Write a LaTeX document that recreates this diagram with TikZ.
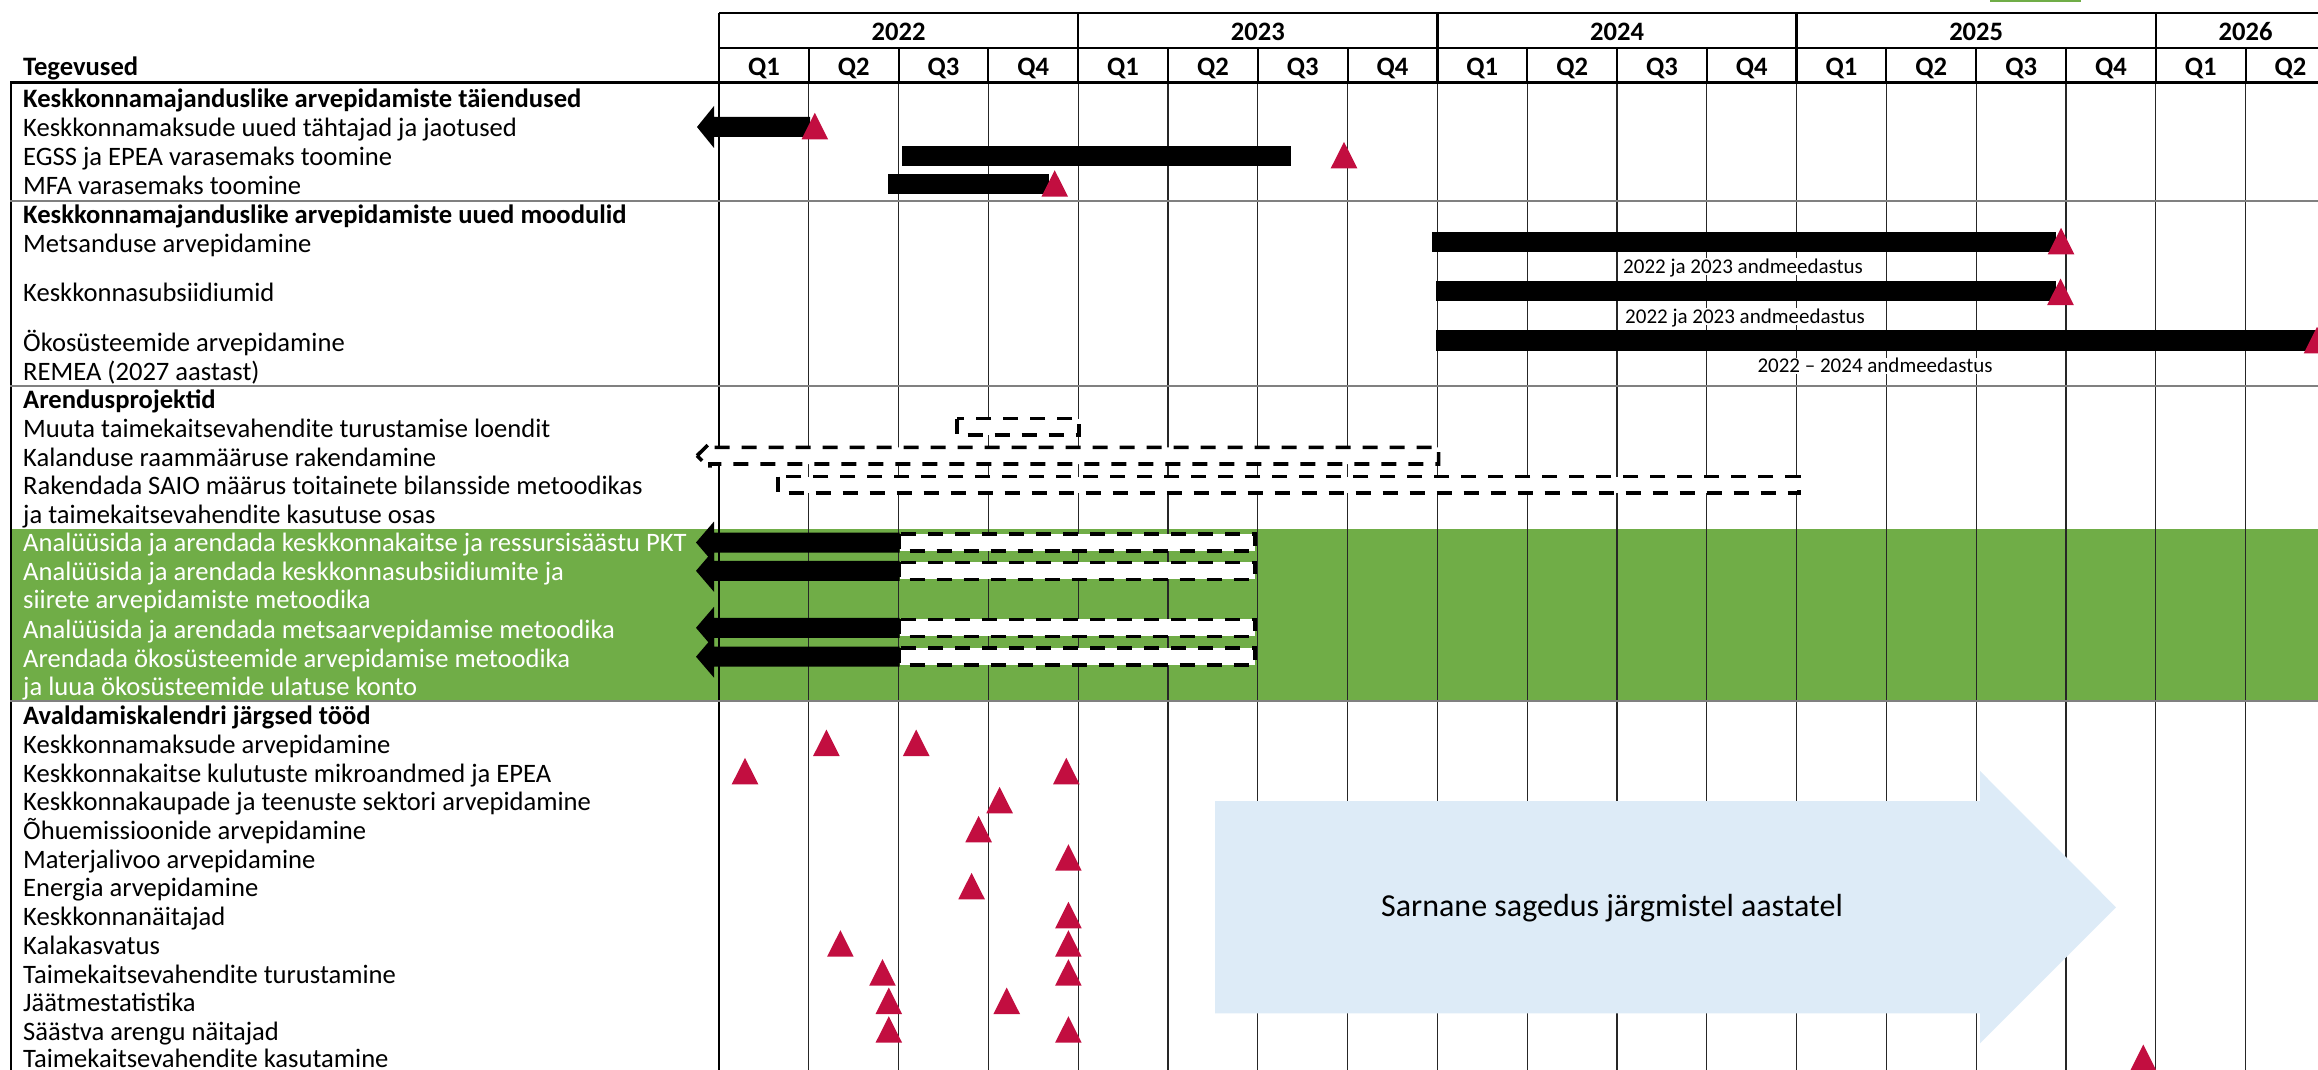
\documentclass[tikz,border=0pt]{standalone}
\usepackage{fontspec}
\setmainfont{Carlito}
\definecolor{ggreen}{RGB}{112,173,71}
\definecolor{mred}{RGB}{194,14,64}
\definecolor{lblue}{RGB}{221,235,247}
\newcommand\mtri[2]{\fill[mred] (#1-13.3,#2) -- (#1+13.3,#2) -- (#1,#2-26.5) -- cycle;}
\newcommand\larrow[6]{\path[#6] (#1,#4) -- (#2,#4-#5) -- (#2,#4-10) -- (#3,#4-10) -- (#3,#4+10) -- (#2,#4+10) -- (#2,#4+#5) -- cycle;}
\begin{document}
\begin{tikzpicture}[x=1pt,y=-1pt,
  txt/.style={anchor=west, inner sep=0pt, font=\fontsize{26.6}{30}\selectfont, text height=16.8pt, text depth=0pt},
  bold/.style={txt, font=\fontsize{26.6}{30}\selectfont\bfseries},
  wtxt/.style={txt, text=white},
  hlab/.style={anchor=center, inner sep=0pt, font=\fontsize{26.6}{30}\selectfont\bfseries, text height=16.8pt, text depth=0pt},
  slab/.style={anchor=center, fill=white, inner sep=1.5pt, font=\fontsize{21}{24}\selectfont, text height=13.5pt, text depth=0pt},
  gridl/.style={line width=1.2pt, draw=black!85},
  sepl/.style={line width=2.2pt, draw=black!50},
  hdl/.style={line width=2.5pt, draw=black},
  bar/.style={fill=black},
  dbar/.style={draw=black, fill=white, line width=3.6pt, dash pattern=on 15pt off 12pt},
]
\useasboundingbox (0,0) rectangle (2318,1070);
% green band and small green mark at top
\fill[ggreen] (10,529) rectangle (2318,701);
\fill[ggreen] (1990,0) rectangle (2081,2);
% body grid
\foreach \k in {1,...,17} \draw[gridl] ({719+89.8*\k},83) -- ({719+89.8*\k},1070);
\draw[line width=2pt] (719,83) -- (719,1070);
\draw[line width=2pt] (10.5,83) -- (10.5,1070);
% header
\draw[hdl] (719,13) -- (2318,13);
\draw[line width=2pt] (719,48) -- (2318,48);
\draw[line width=3pt] (10,83) -- (2318,83);
\foreach \k in {0,4,8,12,16} \draw[hdl] ({719+89.8*\k},13) -- ({719+89.8*\k},83);
\foreach \k in {1,2,3,5,6,7,9,10,11,13,14,15,17} \draw[line width=2pt] ({719+89.8*\k},48) -- ({719+89.8*\k},83);
% section lines
\draw[sepl] (10,200.7) -- (2318,200.7);
\draw[sepl] (10,386) -- (2318,386);
\draw[sepl] (10,701) -- (2318,701);
% header labels
\node[bold] (teg) at (23,66.7) {Tegevused};
\foreach \y/\xx in {2022/898.6, 2023/1257.8, 2024/1617, 2025/1976.2, 2026/2245.6}
  \node[hlab] (y\y) at (\xx,31.7) {\y};
\foreach \k [evaluate=\k as \q using {int(mod(\k,4)+1)}] in {0,...,17}
  \node[hlab] (q\k) at ({719+89.8*(\k+0.5)},66.7) {Q\q};
% section 1 bars
\larrow{697}{714}{810}{127}{21}{bar}
\fill[bar] (902,146) rectangle (1291,166);
\fill[bar] (888,174) rectangle (1049,194);
\mtri{814.8}{139.3}
\mtri{1344}{168.3}
\mtri{1054.7}{196.7}
% section 2 bars
\fill[bar] (1432,231.7) rectangle (2055.6,252.3);
\fill[bar] (1436.4,281) rectangle (2055.6,301);
\fill[bar] (1436,330) rectangle (2318,350.7);
\mtri{2061}{254.3}
\mtri{2060.5}{305}
\mtri{2317}{353.3}
\node[slab] (l1) at (1743,266.7) {2022 ja 2023 andmeedastus};
\node[slab] (l2) at (1745,316.7) {2022 ja 2023 andmeedastus};
\node[slab] (l3) at (1875,366) {2022 -- 2024 andmeedastus};
% section 3 dashed bars
\draw[dbar] (957,418.5) rectangle (1079,435);
\draw[dbar] (697,455.7) -- (710,443) -- (710,447.3) -- (1438.6,447.3) -- (1438.6,464) -- (710,464) -- (710,468.5) -- cycle;
\draw[dbar] (778,476.5) rectangle (1799,493);
% green section bars
\foreach \c in {542.5,570.8,627.8,656.7}{
  \draw[dbar] (899.5,\c-8.5) rectangle (1255,\c+8.5);
  \larrow{696}{714}{899.5}{\c}{21}{bar}
}
% section 5 markers
\mtri{826.4}{756}\mtri{916.2}{756}
\mtri{745}{784.3}\mtri{1066.3}{784.3}
\mtri{999.6}{813.3}
\mtri{978.6}{842.3}
\mtri{1068.4}{870.7}
\mtri{971.6}{899.3}
\mtri{1068.4}{928.3}
\mtri{840.4}{956.7}\mtri{1068.4}{956.7}
\mtri{882.5}{985.7}\mtri{1068.4}{985.7}
\mtri{888.8}{1014}\mtri{1006.7}{1014}
\mtri{888.8}{1042.7}\mtri{1068.4}{1042.7}
\mtri{2143.3}{1071}
% big arrow
\fill[lblue] (1215,801) -- (1980,801) -- (1980,771) -- (2116,907.3) -- (1980,1043.3) -- (1980,1013.3) -- (1215,1013.3) -- cycle;
\node[anchor=center, inner sep=0pt, font=\fontsize{32}{36}\selectfont] (big) at (1612,908) {Sarnane sagedus järgmistel aastatel};
% row texts
\node[bold] (s1) at (23,99.5) {Keskkonnamajanduslike arvepidamiste täiendused};
\node[txt] (r11) at (23,128.2) {Keskkonnamaksude uued tähtajad ja jaotused};
\node[txt] (r12) at (23,156.9) {EGSS ja EPEA varasemaks toomine};
\node[txt] (r13) at (23,185.6) {MFA varasemaks toomine};
\node[bold] (s2) at (23,215) {Keskkonnamajanduslike arvepidamiste uued moodulid};
\node[txt] (r21) at (23,244) {Metsanduse arvepidamine};
\node[txt] (r22) at (23,293.3) {Keskkonnasubsiidiumid};
\node[txt] (r23) at (23,342.7) {Ökosüsteemide arvepidamine};
\node[txt] (r24) at (23,371.7) {REMEA (2027 aastast)};
\node[bold] (s3) at (23,400) {Arendusprojektid};
\node[txt] (r31) at (23,429) {Muuta taimekaitsevahendite turustamise loendit};
\node[txt] (r32) at (23,457.7) {Kalanduse raammääruse rakendamine};
\node[txt] (r33) at (23,486.3) {Rakendada SAIO määrus toitainete bilansside metoodikas};
\node[txt] (r34) at (23,515) {ja taimekaitsevahendite kasutuse osas};
\node[wtxt] (g1) at (23,543.5) {Analüüsida ja arendada keskkonnakaitse ja ressursisäästu PKT};
\node[wtxt] (g2) at (23,572) {Analüüsida ja arendada keskkonnasubsiidiumite ja};
\node[wtxt] (g3) at (23,600.5) {siirete arvepidamiste metoodika};
\node[wtxt] (g4) at (23,630) {Analüüsida ja arendada metsaarvepidamise metoodika};
\node[wtxt] (g5) at (23,658.6) {Arendada ökosüsteemide arvepidamise metoodika};
\node[wtxt] (g6) at (23,687) {ja luua ökosüsteemide ulatuse konto};
\node[bold] (s5) at (23,716) {Avaldamiskalendri järgsed tööd};
\node[txt] (r51) at (23,745) {Keskkonnamaksude arvepidamine};
\node[txt] (r52) at (23,773.7) {Keskkonnakaitse kulutuste mikroandmed ja EPEA};
\node[txt] (r53) at (23,802.4) {Keskkonnakaupade ja teenuste sektori arvepidamine};
\node[txt] (r54) at (23,831) {Õhuemissioonide arvepidamine};
\node[txt] (r55) at (23,859.8) {Materjalivoo arvepidamine};
\node[txt] (r56) at (23,888.5) {Energia arvepidamine};
\node[txt] (r57) at (23,917.2) {Keskkonnanäitajad};
\node[txt] (r58) at (23,946) {Kalakasvatus};
\node[txt] (r59) at (23,974.6) {Taimekaitsevahendite turustamine};
\node[txt] (r510) at (23,1003.3) {Jäätmestatistika};
\node[txt] (r511) at (23,1032) {Säästva arengu näitajad};
\node[txt] (r512) at (23,1059.5) {Taimekaitsevahendite kasutamine};
\end{tikzpicture}
\end{document}
